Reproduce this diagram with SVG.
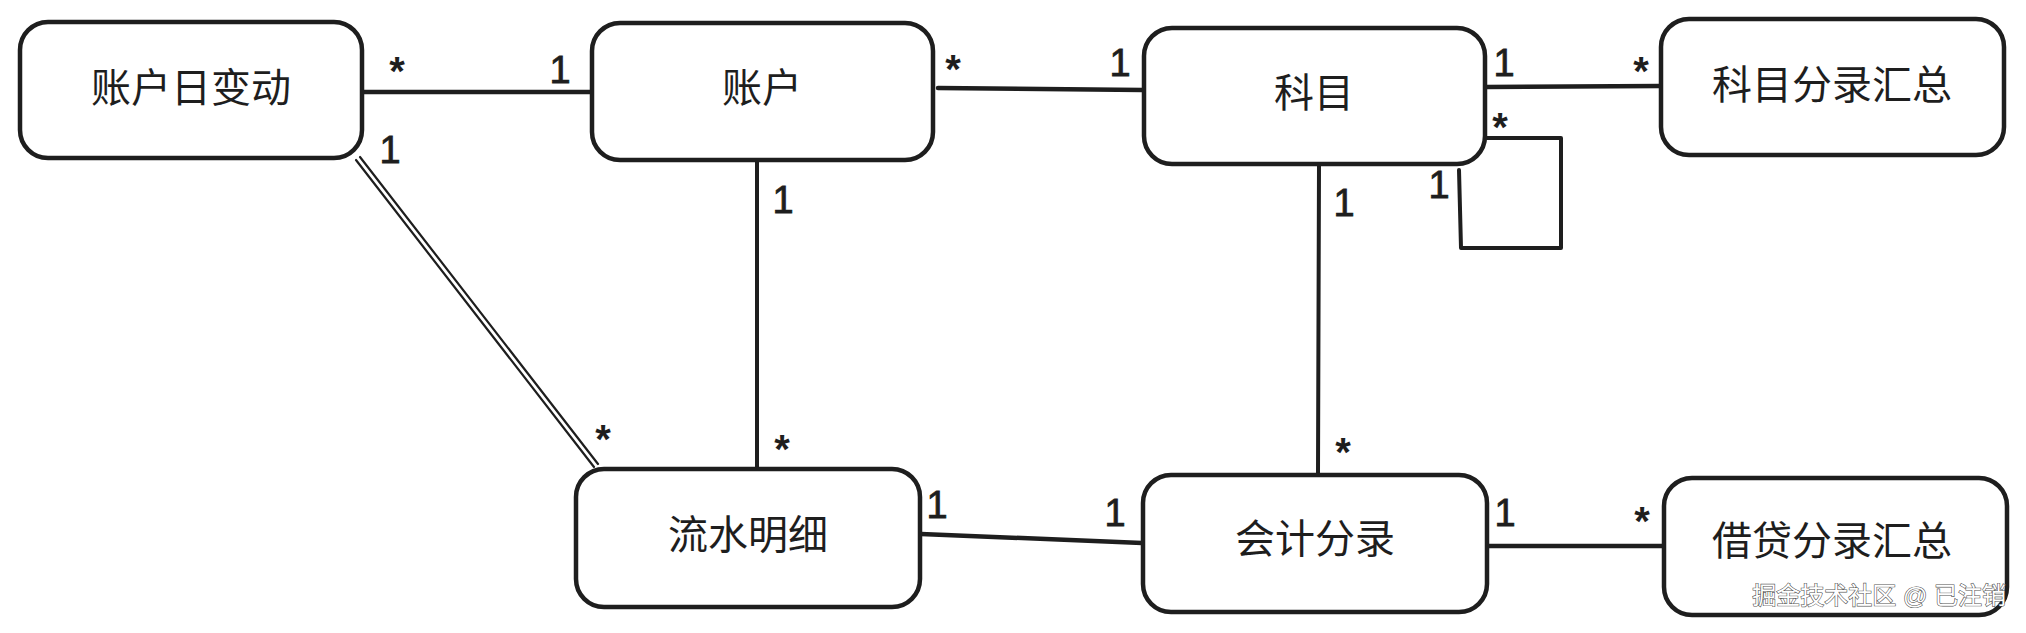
<svg xmlns="http://www.w3.org/2000/svg" width="2026" height="633" viewBox="0 0 2026 633">
<style>
.box{fill:#fff;stroke:#1e1e1e;stroke-width:4.5;stroke-linejoin:round}
.lbl{font-family:"Liberation Sans","Noto Sans CJK SC",sans-serif;font-size:40px;fill:#1e1e1e;text-anchor:middle;dominant-baseline:central}
.c{stroke:#1e1e1e;stroke-width:4.5;fill:none;stroke-linecap:round;stroke-linejoin:round}
.thin{stroke:#1e1e1e;stroke-width:2.2;fill:none;stroke-linecap:round}
.one{font-family:"Liberation Sans",sans-serif;font-size:38px;fill:#1e1e1e;stroke:#1e1e1e;stroke-width:0.8;text-anchor:middle}
.star{font-family:"Liberation Sans",sans-serif;font-size:40px;font-weight:bold;fill:#1e1e1e;text-anchor:middle}
.wm{font-family:"Liberation Sans","Noto Sans CJK SC",sans-serif;font-size:24px;fill:#fff;stroke:#555;stroke-width:1.2;paint-order:stroke;text-anchor:end}
</style>
<rect width="2026" height="633" fill="#fff"/>
<g id="connectors">
  <line class="c" x1="364" y1="92" x2="590" y2="92"/>
  <line class="thin" x1="356" y1="160" x2="594" y2="467"/>
  <line class="thin" x1="360" y1="157" x2="598" y2="464"/>
  <line class="c" x1="757" y1="161" x2="757" y2="468" style="stroke-width:4"/>
  <line class="c" x1="938" y1="88" x2="1143" y2="90"/>
  <line class="c" x1="1486" y1="87" x2="1660" y2="86"/>
  <path class="c" d="M1487,138 L1561,138 L1561,248 L1461,248 L1459,170" style="stroke-width:4"/>
  <line class="c" x1="1319" y1="164" x2="1318" y2="475" style="stroke-width:4"/>
  <line class="c" x1="921" y1="534" x2="1142" y2="543"/>
  <line class="c" x1="1488" y1="546" x2="1663" y2="546"/>
  <g id="multiplicities">
    <text class="star" x="397" y="85">*</text>
    <text class="one" x="560" y="83">1</text>
    <text class="one" x="390" y="163">1</text>
    <text class="star" x="603" y="453">*</text>
    <text class="one" x="783" y="213">1</text>
    <text class="star" x="782" y="463">*</text>
    <text class="star" x="953" y="83">*</text>
    <text class="one" x="1120" y="76">1</text>
    <text class="one" x="1504" y="76">1</text>
    <text class="star" x="1641" y="85">*</text>
    <text class="star" x="1500" y="141">*</text>
    <text class="one" x="1439" y="198">1</text>
    <text class="one" x="1344" y="216">1</text>
    <text class="star" x="1343" y="466">*</text>
    <text class="one" x="937" y="518">1</text>
    <text class="one" x="1115" y="526">1</text>
    <text class="one" x="1505" y="526">1</text>
    <text class="star" x="1642" y="535">*</text>
  </g>
</g>
<g id="node-account-daily">
  <rect class="box" x="20" y="22" width="342" height="136" rx="28"/>
  <text class="lbl" x="191" y="88">账户日变动</text>
</g>
<g id="node-account">
  <rect class="box" x="592" y="23" width="341" height="137" rx="28"/>
  <text class="lbl" x="762" y="88">账户</text>
</g>
<g id="node-subject">
  <rect class="box" x="1144" y="28" width="341" height="136" rx="28"/>
  <text class="lbl" x="1314" y="93">科目</text>
</g>
<g id="node-subject-summary">
  <rect class="box" x="1661" y="19" width="343" height="136" rx="28"/>
  <text class="lbl" x="1832" y="85">科目分录汇总</text>
</g>
<g id="node-flow-detail">
  <rect class="box" x="576" y="469" width="344" height="138" rx="28"/>
  <text class="lbl" x="748" y="535">流水明细</text>
</g>
<g id="node-journal">
  <rect class="box" x="1143" y="475" width="344" height="137" rx="28"/>
  <text class="lbl" x="1315" y="539">会计分录</text>
</g>
<g id="node-dc-summary">
  <rect class="box" x="1664" y="478" width="343" height="137" rx="28"/>
  <text class="lbl" x="1832" y="541">借贷分录汇总</text>
</g>
<text class="wm" x="2006" y="604">掘金技术社区 @ 已注销</text>
</svg>
